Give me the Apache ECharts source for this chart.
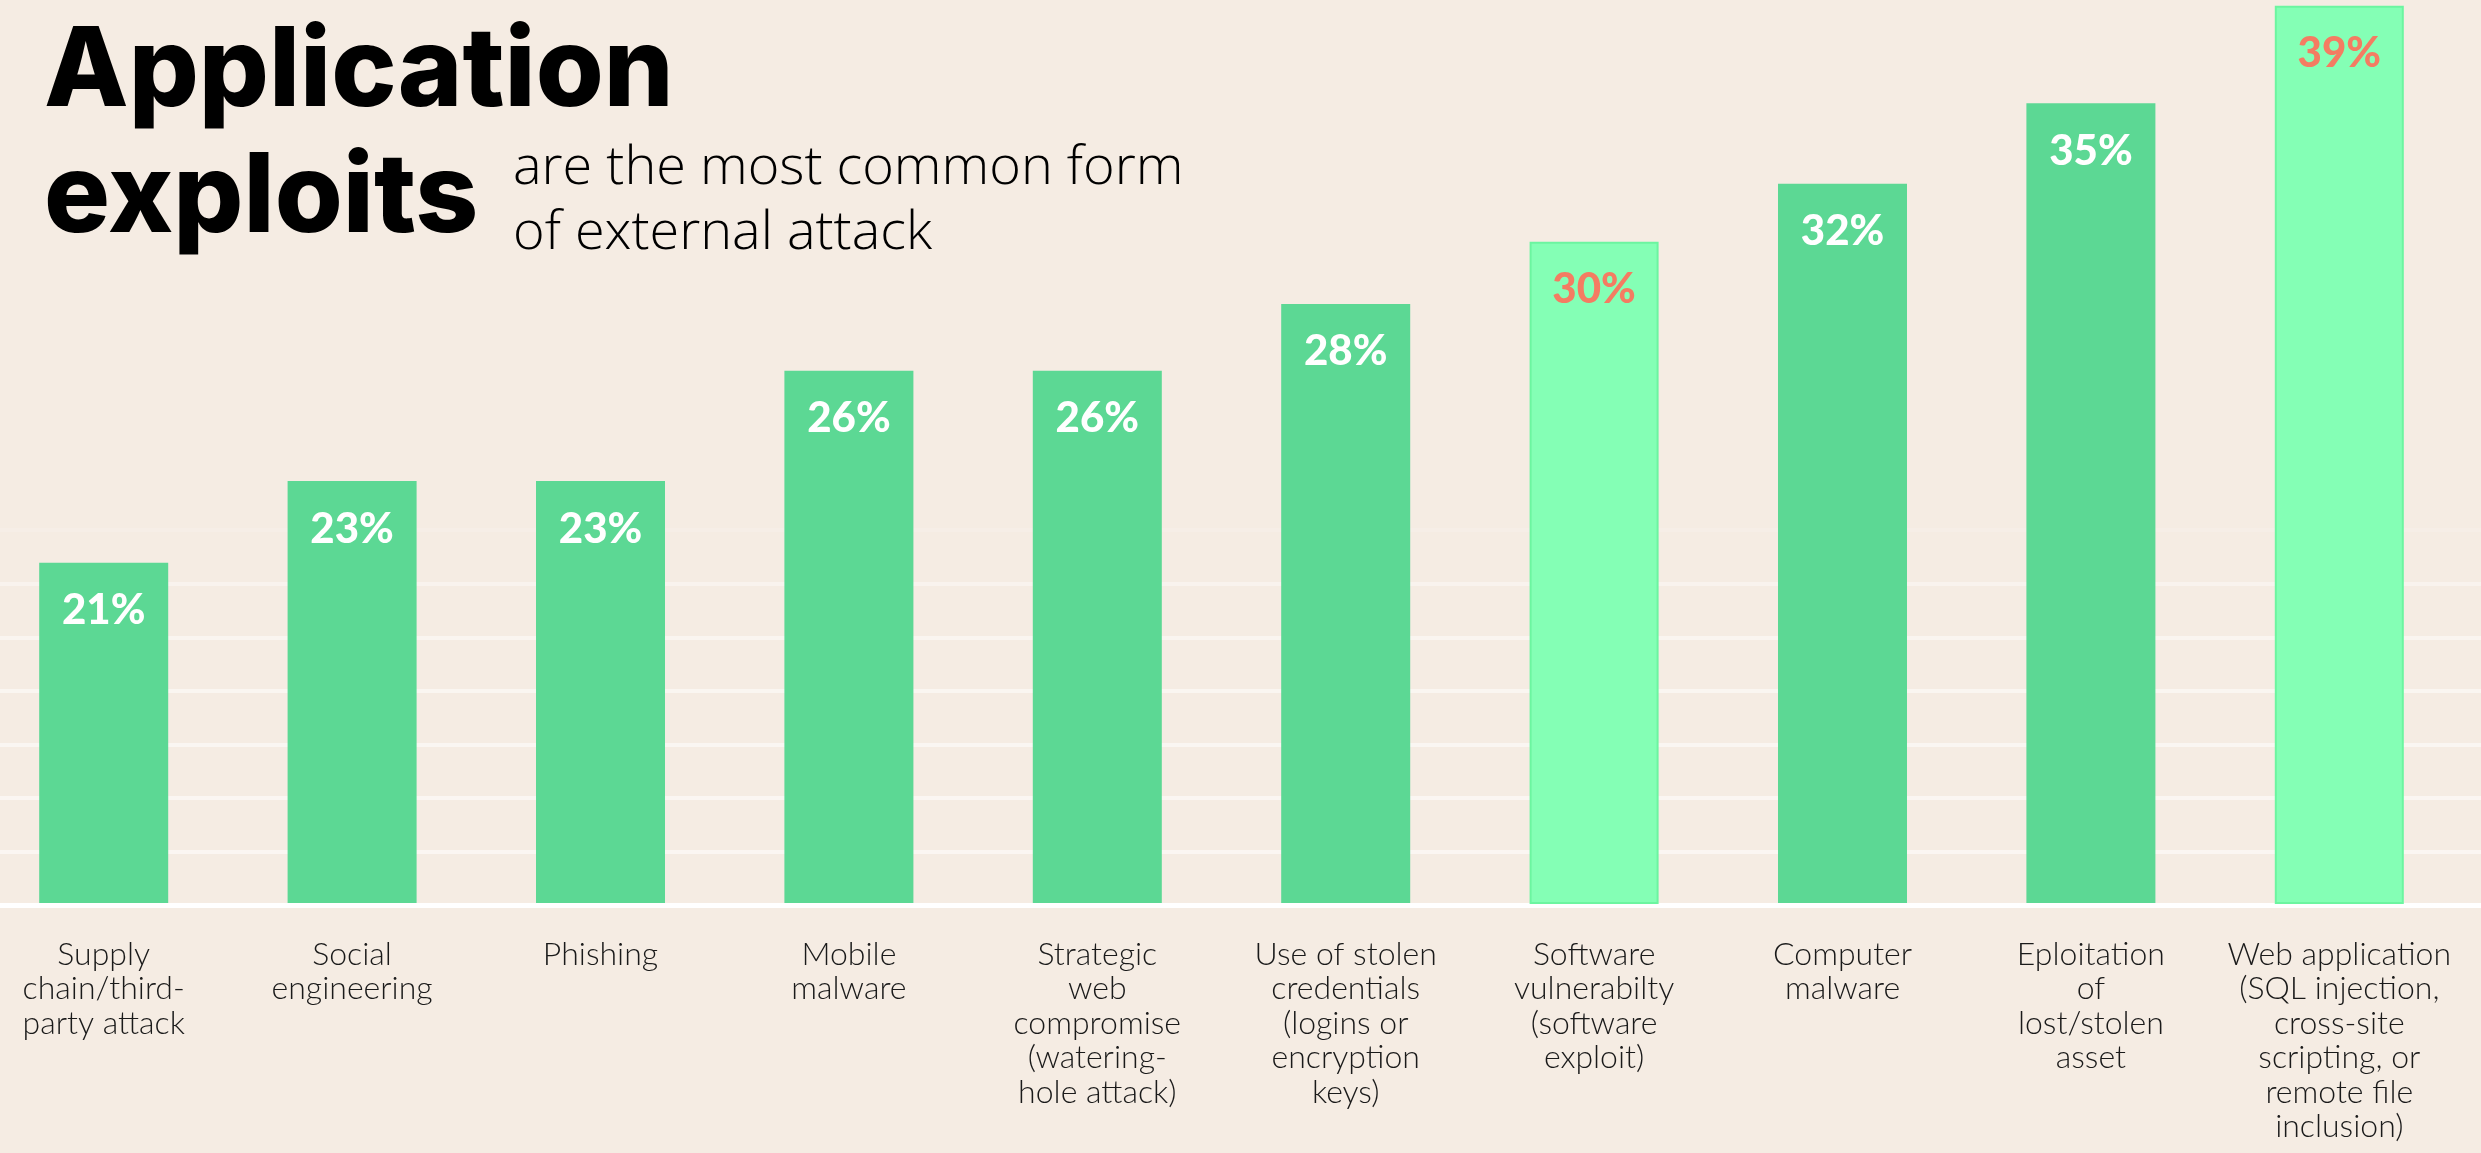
<!DOCTYPE html>
<html>
<head>
<meta charset="utf-8">
<script src="https://cdn.jsdelivr.net/npm/echarts@6/dist/echarts.min.js"></script>
<style>
html,body{margin:0;padding:0;background:#F5ECE3;}
#c{width:2481px;height:1153px;}
</style>
</head>
<body>
<div id="c"></div>
<script>
const titleText = 'Application\nexploits';
const subtitleText = 'are the most common form\nof external attack';

const categories = [
  'Supply\nchain/third-\nparty attack',
  'Social\nengineering',
  'Phishing',
  'Mobile\nmalware',
  'Strategic\nweb\ncompromise\n(watering-\nhole attack)',
  'Use of stolen\ncredentials\n(logins or\nencryption\nkeys)',
  'Software\nvulnerabilty\n(software\nexploit)',
  'Computer\nmalware',
  'Eploitation\nof\nlost/stolen\nasset',
  'Web application\n(SQL injection,\ncross-site\nscripting, or\nremote file\ninclusion)'
];
const values = [21, 23, 23, 26, 26, 28, 30, 32, 35, 39];
const highlighted = [false, false, false, false, false, false, true, false, false, true];

const chart = echarts.init(document.getElementById('c'));

const data = values.map((v, i) => ({
  value: v,
  itemStyle: highlighted[i]
    ? { color: '#84FFB5', borderColor: '#6CF5A0', borderWidth: 2 }
    : { color: '#5CD894' },
  label: { color: highlighted[i] ? '#F47C62' : '#FFFFFF' }
}));

const option = {
  backgroundColor: '#F5ECE3',
  animation: false,
  title: [
    {
      text: titleText,
      left: 44, top: 10, padding: 0,
      textStyle: { fontFamily: 'Inter', fontWeight: 800, fontSize: 110, lineHeight: 126, color: '#000000' }
    },
    {
      text: subtitleText,
      left: 513, top: 136, padding: 0,
      textStyle: { fontFamily: 'Open Sans', fontWeight: 300, fontSize: 54, lineHeight: 65, color: '#000000' }
    }
  ],
  grid: [
    { left: -20.5, width: 2484, top: 0, bottom: 250, outerBoundsMode: 'none', containLabel: false },
    { left: 0, right: 0, top: 530, height: 375.5, outerBoundsMode: 'none', containLabel: false }
  ],
  xAxis: [
    {
      type: 'category', gridIndex: 0, data: categories,
      axisLine: { show: false }, axisTick: { show: false }, splitLine: { show: false },
      axisLabel: {
        interval: 0, margin: 34, fontFamily: 'Lato', fontWeight: 300,
        fontSize: 32, lineHeight: 34.5, color: '#1A1A1A', align: 'center'
      }
    },
    {
      type: 'value', gridIndex: 1, min: 0, max: 1,
      axisLine: { show: true, onZero: false, lineStyle: { color: '#FFFFFF', width: 5 } },
      axisTick: { show: false }, axisLabel: { show: false }, splitLine: { show: false }
    }
  ],
  yAxis: [
    {
      type: 'log', gridIndex: 0, logBase: 10, min: 14.39, max: 39.25, show: false,
      splitLine: { show: false }
    },
    {
      type: 'value', gridIndex: 1, min: 0, max: 7, interval: 1,
      axisLine: { show: false }, axisTick: { show: false }, axisLabel: { show: false },
      splitLine: {
        show: true,
        lineStyle: {
          width: 4,
          color: ['rgba(255,255,255,0)', 'rgba(255,255,255,0.55)', 'rgba(255,255,255,0.55)',
                  'rgba(255,255,255,0.52)', 'rgba(255,255,255,0.5)', 'rgba(255,255,255,0.47)',
                  'rgba(255,255,255,0.4)', 'rgba(255,255,255,0.15)']
        }
      }
    }
  ],
  series: [
    {
      type: 'bar', xAxisIndex: 0, yAxisIndex: 0, data: data,
      barWidth: 129, clip: true, z: 3,
      label: {
        show: true, position: ['50%', 48], align: 'center', verticalAlign: 'middle',
        fontFamily: 'Lato', fontWeight: 900, fontSize: 42,
        formatter: '{c}%'
      }
    }
  ]
};
chart.setOption(option);
</script>
</body>
</html>
